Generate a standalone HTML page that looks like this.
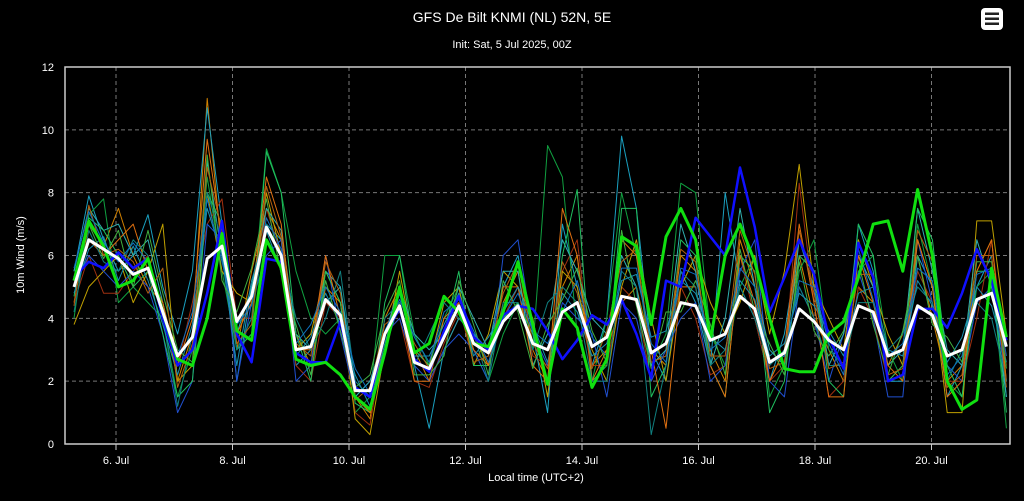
<!DOCTYPE html>
<html><head><meta charset="utf-8"><style>
body{margin:0;background:#000;width:1024px;height:501px;overflow:hidden;font-family:"Liberation Sans",sans-serif}
svg{display:block}
</style></head><body>
<svg id="chart" width="1024" height="501">
<rect width="1024" height="501" fill="#000"/>
<text x="512" y="22" fill="#fff" font-size="14" text-anchor="middle">GFS De Bilt KNMI (NL) 52N, 5E</text>
<text x="512" y="48" fill="#fff" font-size="11" text-anchor="middle">Init: Sat, 5 Jul 2025, 00Z</text>
<g>
<rect x="981" y="8" width="22" height="22" rx="4" fill="#fff"/>
<rect x="985" y="12.5" width="14" height="2.5" fill="#222"/><rect x="985" y="17.5" width="14" height="2.5" fill="#222"/><rect x="985" y="22.5" width="14" height="2.5" fill="#222"/>
</g>
<g id="grid"></g>
<g id="members"></g>
<g id="main"></g>
<rect x="65" y="67" width="945" height="377" fill="none" stroke="#ccc" stroke-width="1.5"/>
<g id="axes"></g>
<text x="536" y="481" fill="#fff" font-size="11" text-anchor="middle">Local time (UTC+2)</text>
<text x="24" y="255" fill="#fff" font-size="11" text-anchor="middle" transform="rotate(-90 24 255)">10m Wind (m/s)</text>
</svg>
<script>
const yTicks=[0,2,4,6,8,10,12];
const xTickDays=[6,8,10,12,14,16,18,20];
const xTickLabels=["6. Jul","8. Jul","10. Jul","12. Jul","14. Jul","16. Jul","18. Jul","20. Jul"];
const meanSeries=[5.0,6.5,6.2,5.9,5.4,5.6,4.2,2.8,3.4,5.9,6.3,3.9,4.7,6.9,6.0,3.0,3.1,4.6,4.1,1.7,1.7,3.5,4.4,2.6,2.4,3.4,4.4,3.2,2.9,3.9,4.4,3.2,3.0,4.2,4.5,3.1,3.4,4.7,4.6,2.9,3.2,4.5,4.4,3.3,3.5,4.7,4.3,2.6,2.9,4.3,3.9,3.3,3.0,4.4,4.2,2.8,3.0,4.4,4.1,2.8,3.0,4.6,4.8,3.1];
const greenSeries=[5.2,7.1,6.3,5.0,5.2,5.9,4.2,2.7,2.5,4.0,6.7,3.6,3.3,6.5,5.6,2.7,2.5,2.6,2.2,1.5,1.1,2.9,5.0,2.9,3.2,4.7,4.2,3.2,3.1,4.2,5.8,3.8,1.9,4.3,3.7,1.8,2.7,6.6,6.3,3.8,6.6,7.5,6.5,3.3,6.0,7.0,5.8,4.0,2.4,2.3,2.3,3.5,3.9,5.3,7.0,7.1,5.5,8.1,6.0,2.0,1.1,1.4,5.6,3.4];
const blueSeries=[5.3,5.8,5.6,6.1,5.6,5.9,4.0,2.5,3.0,4.8,7.1,3.5,2.6,5.9,5.8,2.9,2.6,2.6,3.9,1.8,1.5,3.5,4.3,2.7,2.3,3.6,4.7,3.4,3.0,4.1,4.4,4.3,3.6,2.7,3.3,4.1,3.8,4.6,3.5,2.1,5.2,5.0,7.2,6.6,6.0,8.8,6.9,4.2,5.3,6.5,5.4,3.4,2.4,6.4,5.3,2.0,2.2,4.3,4.3,3.7,4.8,6.2,5.2,3.3];
const m1=[4.5,7.0,6.3,7.5,6.0,5.0,4.5,2.0,3.5,11.0,6.0,3.0,5.5,7.5,6.5,3.5,2.5,5.0,4.5,1.5,0.8,4.0,5.0,3.0,2.0,3.0,4.0,3.5,2.5,4.5,5.5,3.0,2.0,5.0,6.0,2.5,3.0,4.5,5.0,3.0,2.5,6.0,5.5,3.0,2.0,6.5,5.0,2.0,3.0,6.0,4.0,3.0,2.0,5.0,4.5,2.5,3.5,6.0,4.0,2.0,2.5,5.5,6.5,2.0];
const m2=[5.5,7.9,6.5,5.5,6.0,7.3,5.0,3.5,5.5,10.7,7.0,2.0,5.0,7.0,6.5,2.5,3.0,5.5,5.0,2.0,1.5,3.0,4.5,2.5,0.5,3.0,4.0,3.5,3.0,5.0,6.0,3.5,1.0,7.0,5.0,2.5,4.0,9.8,7.5,3.0,2.0,5.5,4.5,2.5,8.0,5.0,4.0,2.0,3.5,6.5,5.0,2.5,2.5,7.0,5.5,2.0,2.0,6.0,5.0,1.5,2.5,5.0,6.0,1.5];
const m3=[4.0,7.3,7.8,4.5,5.0,4.5,4.0,1.5,3.0,8.5,5.5,3.0,4.0,9.4,8.0,5.5,4.0,3.5,4.0,1.0,1.5,6.0,6.0,3.5,2.5,4.0,5.0,3.0,2.0,3.5,4.5,3.0,9.5,8.5,3.5,2.0,4.0,8.0,6.0,2.5,3.5,8.3,8.0,3.5,2.5,5.0,6.0,1.5,2.5,5.5,6.5,3.0,2.5,5.5,6.0,3.0,2.0,7.0,5.0,2.0,1.5,5.0,5.5,0.5];
const m4=[4.5,6.0,4.8,4.8,5.5,6.0,4.0,2.5,4.5,7.0,7.8,4.0,4.0,7.5,6.0,2.5,2.0,4.5,4.0,1.0,0.6,3.5,4.0,2.0,1.8,3.2,4.2,3.0,2.5,4.0,5.0,2.8,2.5,5.5,6.5,2.5,2.5,5.0,4.5,2.0,3.0,5.0,4.0,2.2,2.5,6.0,4.0,2.0,2.5,8.3,4.5,1.5,2.0,5.0,4.0,2.0,2.5,5.5,4.5,2.0,2.0,4.0,6.5,2.5];
const m5=[3.8,5.0,5.5,6.0,4.5,5.5,7.0,2.0,2.5,8.0,5.5,4.8,4.5,8.0,6.0,3.0,3.5,5.5,4.5,0.8,0.3,3.0,5.5,3.0,2.5,4.5,5.0,2.5,3.5,5.5,5.0,4.0,1.5,5.5,5.0,3.0,2.0,5.0,6.5,4.0,2.0,5.0,6.0,4.5,3.5,4.5,6.0,3.5,5.5,8.9,5.0,4.0,3.0,6.5,5.0,3.5,2.5,6.5,5.0,1.0,1.0,7.1,7.1,3.5];
const m6=[5.0,6.0,5.5,5.0,5.5,5.0,3.5,1.0,2.0,7.0,6.5,2.0,4.5,6.0,6.5,2.0,2.5,6.0,3.5,1.5,2.0,3.5,4.0,2.5,2.0,3.0,3.5,3.0,2.0,6.0,6.5,3.5,2.5,4.5,4.0,3.5,1.5,4.5,4.0,2.0,3.0,4.0,4.5,2.0,2.5,5.5,6.5,2.0,1.5,5.0,4.0,2.0,3.5,5.5,4.0,1.5,1.5,6.5,4.5,2.5,2.0,4.5,5.0,2.0];
const m7=[5.5,7.5,6.8,7.0,6.0,6.5,4.5,2.5,3.0,9.0,6.0,3.5,5.0,7.5,6.8,3.5,3.0,4.5,5.0,1.5,2.0,3.5,5.0,3.5,3.0,3.5,5.0,4.0,3.0,5.5,5.5,2.5,3.5,6.5,5.5,4.0,3.5,6.0,5.0,2.5,3.0,7.0,5.5,2.5,4.0,7.5,5.0,3.0,2.5,6.5,5.5,2.5,3.5,6.0,5.0,2.5,3.0,7.5,5.5,3.0,2.5,6.5,5.0,1.5];
const m8=[4.7,7.2,6.8,6.0,5.0,5.5,3.5,1.5,2.0,8.0,7.0,3.0,3.5,9.3,8.0,3.5,2.0,5.5,4.5,1.3,1.0,4.5,6.0,3.0,2.5,3.5,5.5,2.5,2.5,4.0,4.5,3.5,2.0,6.0,8.1,2.0,2.5,7.5,7.5,1.5,2.5,6.5,6.0,2.5,1.5,6.0,5.5,1.0,2.0,6.0,5.5,2.0,1.5,7.0,6.0,2.0,2.5,7.5,6.5,2.5,1.5,5.5,5.5,1.0];
const m9=[5.0,6.5,6.0,6.5,7.0,5.5,4.5,2.5,4.0,9.7,6.5,3.5,4.5,8.5,7.0,3.0,3.0,6.0,4.0,1.5,1.0,3.5,4.5,2.0,2.0,4.0,4.5,3.0,2.5,5.0,5.0,2.5,2.0,7.5,6.0,2.0,3.0,6.5,6.0,3.0,0.5,5.0,5.0,2.5,1.5,6.0,4.5,2.0,3.0,7.0,4.5,1.5,1.5,6.0,4.5,2.5,2.0,6.5,5.0,1.5,2.0,5.5,6.5,2.0];
const m10=[4.2,6.8,5.8,5.5,6.5,6.0,4.0,1.2,3.5,8.0,6.5,3.0,4.0,7.0,6.0,4.0,3.0,4.0,5.5,2.0,1.5,4.0,4.5,2.5,3.5,4.5,4.0,3.5,2.0,4.5,4.5,3.0,4.5,5.0,4.5,2.0,2.0,5.5,5.0,0.3,2.5,5.5,5.0,2.5,3.0,5.0,4.0,2.5,3.0,5.0,4.0,2.5,2.5,4.5,4.5,3.0,3.5,5.0,4.5,2.0,3.0,4.5,4.0,2.0];
const m11=[4.8,6.2,6.6,5.2,6.3,5.2,3.8,2.2,3.8,7.5,6.0,2.5,5.2,6.8,5.5,2.8,3.4,4.8,3.8,2.2,1.2,3.2,4.8,2.8,2.8,3.8,4.8,2.8,3.4,4.2,5.0,3.8,2.6,4.8,4.2,2.8,3.2,5.2,5.4,3.4,3.6,5.2,4.8,3.4,3.0,5.2,4.6,2.8,3.2,4.8,4.4,3.6,2.8,4.8,5.0,3.0,2.8,5.2,4.4,2.6,3.4,5.0,4.4,2.6];
const m12=[5.2,7.0,5.9,6.8,5.0,6.8,4.8,3.0,2.6,9.2,5.2,4.2,5.6,7.8,5.4,3.8,2.2,5.2,3.6,1.8,2.2,4.2,5.2,2.2,2.2,2.8,5.2,3.8,2.2,5.2,4.2,2.4,3.8,4.6,5.6,3.6,2.6,6.8,4.4,2.4,4.2,4.2,5.2,3.8,2.2,6.2,4.2,3.2,2.2,5.8,3.6,2.8,3.6,5.8,3.8,2.2,3.6,6.0,3.8,3.4,2.6,5.8,5.8,2.4];
const m13=[4.4,7.6,6.0,6.2,5.8,4.8,5.6,1.8,3.2,8.8,6.8,3.2,3.8,8.2,6.6,3.2,2.8,5.8,4.8,1.4,1.8,3.8,4.2,3.2,2.4,3.6,4.4,2.6,2.8,4.8,5.8,3.2,2.4,5.8,4.8,2.4,3.6,5.8,6.2,2.6,2.8,6.2,5.8,2.8,2.8,6.8,5.4,2.4,2.6,6.8,4.8,2.4,2.6,5.4,5.4,2.2,2.4,6.8,5.8,1.8,2.2,6.0,6.0,1.8];
const m14=[5.6,7.4,6.4,5.8,6.4,5.8,4.2,2.8,4.2,7.8,5.8,3.8,4.4,7.2,6.2,3.2,3.8,5.0,4.2,2.4,1.6,3.6,4.6,3.4,2.6,4.2,4.6,3.6,2.6,4.0,4.8,3.6,3.2,4.2,5.2,3.4,2.8,5.6,5.6,3.2,2.6,5.6,5.4,3.0,3.4,5.6,5.0,2.6,2.8,5.2,5.0,3.2,2.2,6.2,4.6,2.8,3.2,5.6,5.2,2.2,2.8,5.4,5.6,2.8];
const memberSeries=[m1,m2,m3,m4,m5,m6,m7,m8,m9,m10,m11,m12,m13,m14];
const memberColors=["#d08000","#1aa0c0","#10a040","#a03010","#c0a000","#2050d0","#30b0b0","#20c060","#e07010","#108080","#1890b0","#40b040","#b06010","#1070c0"];

const NS="http://www.w3.org/2000/svg";
const x0=65,x1=1010,yTop=67,yBot=444;
function yScale(v){return yBot-(v/12)*(yBot-yTop);}
function xScale(i){return 74+i*14.8;}
function dayX(d){return 116+(d-6)*58.25;}
function mk(tag,attrs,parent){const e=document.createElementNS(NS,tag);for(const k in attrs)e.setAttribute(k,attrs[k]);parent.appendChild(e);return e;}
const grid=document.getElementById('grid'),axes=document.getElementById('axes');
yTicks.forEach(v=>{
  if(v>0&&v<12){const l=mk('line',{x1:x0,x2:x1,y1:yScale(v),y2:yScale(v),stroke:'#777','stroke-dasharray':'4,3'},grid);
  
  }
  const t=mk('text',{x:54,y:yScale(v)+4,fill:'#fff','font-size':11,'text-anchor':'end'},axes);t.textContent=v;
  
  
});
xTickDays.forEach((d,i)=>{
  const l=mk('line',{x1:dayX(d),x2:dayX(d),y1:yTop,y2:yBot,stroke:'#777','stroke-dasharray':'4,3'},grid);
  
  
  const tk=mk('line',{x1:dayX(d),x2:dayX(d),y1:yBot,y2:yBot+6,stroke:'#ccc'},axes);
  
  
  const t=mk('text',{x:dayX(d),y:464,fill:'#fff','font-size':11,'text-anchor':'middle'},axes);t.textContent=xTickLabels[i];
  
  
});
function pts(s){return s.map((v,i)=>xScale(i).toFixed(1)+','+yScale(v).toFixed(1)).join(' ');}
const mg=document.getElementById('members');
memberSeries.forEach((s,k)=>{
  const p=mk('polyline',{points:pts(s),fill:'none',stroke:memberColors[k],'stroke-width':1,'stroke-linejoin':'round'},mg);
  
  
});
const main=document.getElementById('main');
const b=mk('polyline',{points:pts(blueSeries),fill:'none',stroke:'#1010ff','stroke-width':2.5,'stroke-linejoin':'round'},main);


const g=mk('polyline',{points:pts(greenSeries),fill:'none',stroke:'#10e010','stroke-width':3,'stroke-linejoin':'round'},main);


const w=mk('polyline',{points:pts(meanSeries),fill:'none',stroke:'#fff','stroke-width':3,'stroke-linejoin':'round'},main);


</script>
</body></html>
